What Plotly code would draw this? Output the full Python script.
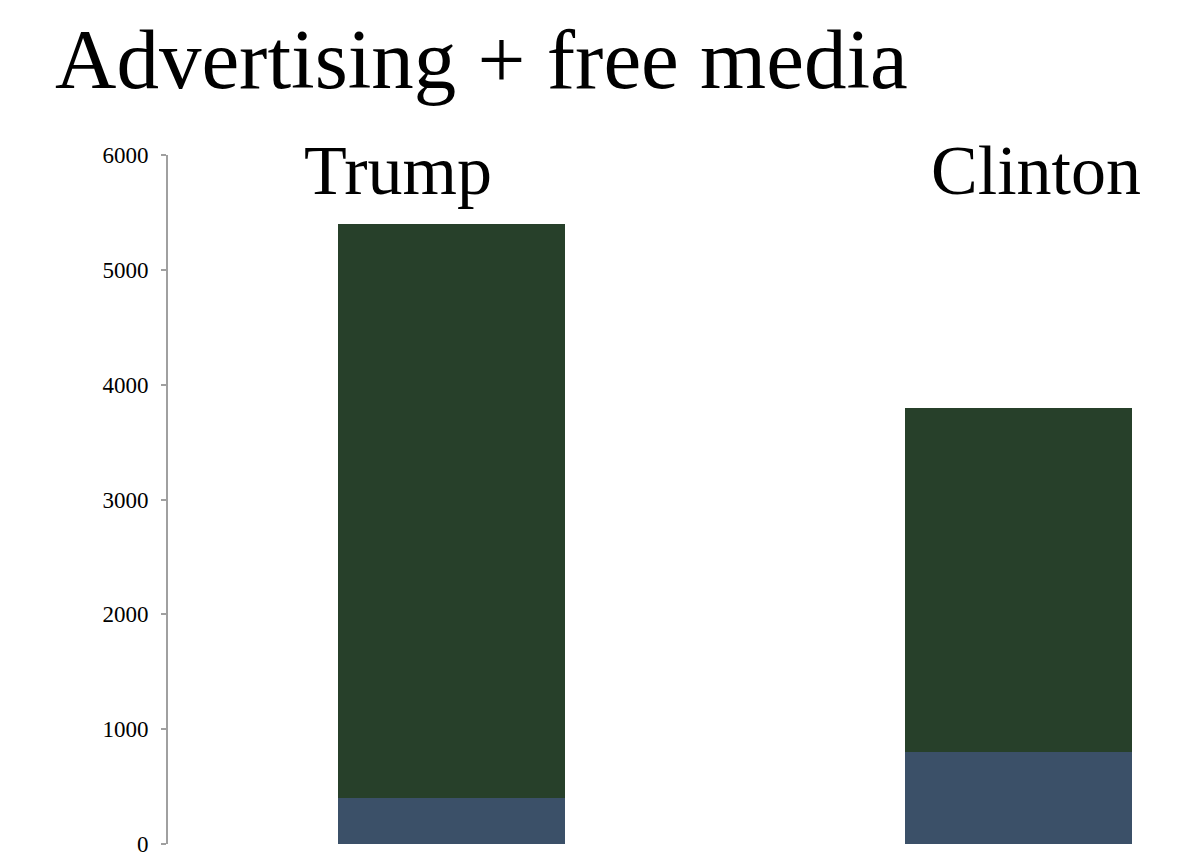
import plotly.graph_objects as go

candidates = ["Trump", "Clinton"]
advertising = [400, 800]
free_media = [5000, 3000]
y_ticks = [0, 1000, 2000, 3000, 4000, 5000, 6000]

SERIF = "Liberation Serif, Georgia, serif"
W, H = 1192, 851
L, T, B = 160, 147, 15
PW, PH = W - L, H - T - B

fig = go.Figure()
fig.add_trace(go.Bar(x=candidates, y=advertising, name="Advertising",
                     marker=dict(color="#3b5068", line=dict(width=0)), width=0.4))
fig.add_trace(go.Bar(x=candidates, y=free_media, name="Free media",
                     marker=dict(color="#27402a", line=dict(width=0)), width=0.4))

fig.update_layout(
    barmode="stack",
    width=W, height=H,
    paper_bgcolor="white", plot_bgcolor="white",
    showlegend=False,
    margin=dict(l=L, r=0, t=T, b=B),
    title=dict(text="Advertising + free media", x=47/W, xanchor="left",
               y=1-50/H, yanchor="middle",
               font=dict(family=SERIF, size=85, color="black")),
    xaxis=dict(range=[-0.5, 1.32], showticklabels=False, showline=False,
               showgrid=False, zeroline=False, ticks=""),
    yaxis=dict(range=[0, 6000], tickvals=y_ticks, showgrid=False, zeroline=False,
               showline=True, linecolor="#a0a0a0", linewidth=2,
               ticks="outside", ticklen=5, tickcolor="#a0a0a0", tickwidth=1.5,
               ticklabelstandoff=8,
               tickfont=dict(family=SERIF, size=23, color="black")),
)

for name, xc in zip(candidates, [389.5, 1028]):
    fig.add_annotation(text=name, xref="paper", yref="paper",
                       x=(xc-L)/PW, y=(T+PH-162)/PH, xanchor="center", yanchor="middle",
                       showarrow=False, font=dict(family=SERIF, size=70, color="black"))

fig.write_html("out.html")
